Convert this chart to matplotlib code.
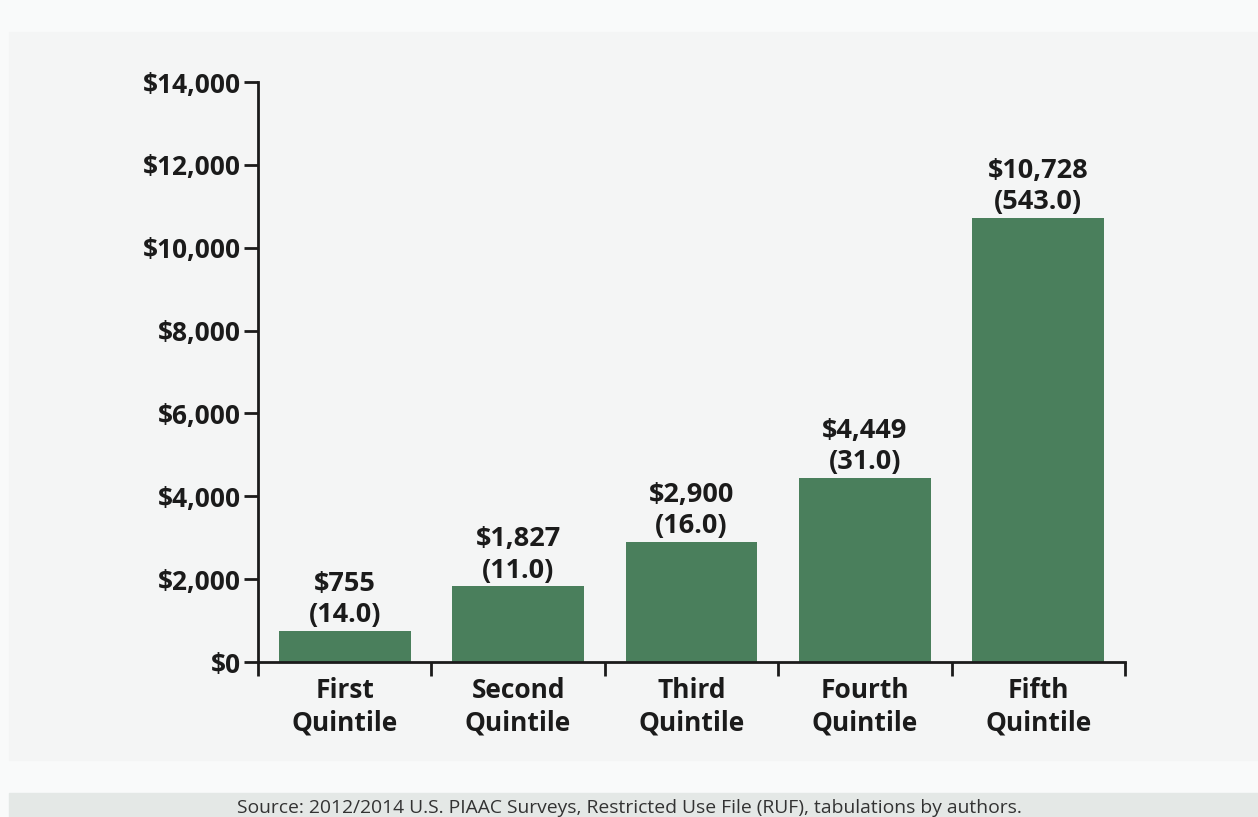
import matplotlib.pyplot as plt
from matplotlib.patches import Rectangle
from matplotlib.ticker import FuncFormatter

quintiles = ['First\nQuintile', 'Second\nQuintile', 'Third\nQuintile',
             'Fourth\nQuintile', 'Fifth\nQuintile']
earnings = [755, 1827, 2900, 4449, 10728]
std_errors = [14.0, 11.0, 16.0, 31.0, 543.0]

W, H = 1258, 817
plt.rcParams['font.family'] = ['Open Sans', 'DejaVu Sans']
text_col = '#1b1b1b'

fig = plt.figure(figsize=(W / 100, H / 100), dpi=100, facecolor='#f9fafa')

# background panels
fig.patches.append(Rectangle((9 / W, 1 - 760 / H), 1 - 9 / W, (760 - 32) / H,
                             transform=fig.transFigure, color='#f4f5f5', zorder=-2))
fig.patches.append(Rectangle((9 / W, 0), 1 - 9 / W, 24 / H,
                             transform=fig.transFigure, color='#e4e8e6', zorder=-2))

ax = fig.add_axes([258 / W, 1 - 662 / H, (1125 - 258) / W, (662 - 82) / H])
ax.set_facecolor('none')

x = range(len(quintiles))
ax.bar(x, earnings, width=0.76, color='#4a7f5c', zorder=2)
for i, (v, se) in enumerate(zip(earnings, std_errors)):
    ax.text(i, v + 60, f'${v:,}\n({se:.1f})', ha='center', va='bottom',
            fontsize=19.5, fontweight='bold', color=text_col, linespacing=1.27)

ax.set_xlim(-0.5, 4.5)
ax.set_ylim(0, 14000)
ax.set_yticks(range(0, 14001, 2000))
ax.yaxis.set_major_formatter(FuncFormatter(lambda v, p: f'${v:,.0f}'))
ax.set_xticks([i - 0.5 for i in range(6)])
ax.set_xticklabels([])
ax.set_xticks(list(x), minor=True)
ax.set_xticklabels(quintiles, minor=True)
ax.tick_params(axis='x', which='minor', length=0, pad=11)
ax.tick_params(axis='x', which='major', length=10, width=2, color=text_col)
ax.tick_params(axis='y', length=10, width=2, color=text_col, pad=2)
for lbl in ax.get_yticklabels():
    lbl.set_fontsize(19)
    lbl.set_fontweight('bold')
    lbl.set_color(text_col)
for lbl in ax.get_xticklabels(minor=True):
    lbl.set_fontsize(19)
    lbl.set_fontweight('bold')
    lbl.set_color(text_col)
    lbl.set_linespacing(1.27)

for s in ['top', 'right']:
    ax.spines[s].set_visible(False)
for s in ['left', 'bottom']:
    ax.spines[s].set_linewidth(2)
    ax.spines[s].set_color(text_col)

fig.text(0.5, 9 / H, 'Source: 2012/2014 U.S. PIAAC Surveys, Restricted Use File (RUF), tabulations by authors.',
         ha='center', va='center', fontsize=13.9, color='#333333')

fig.savefig('out.png', dpi=100, facecolor=fig.get_facecolor())
